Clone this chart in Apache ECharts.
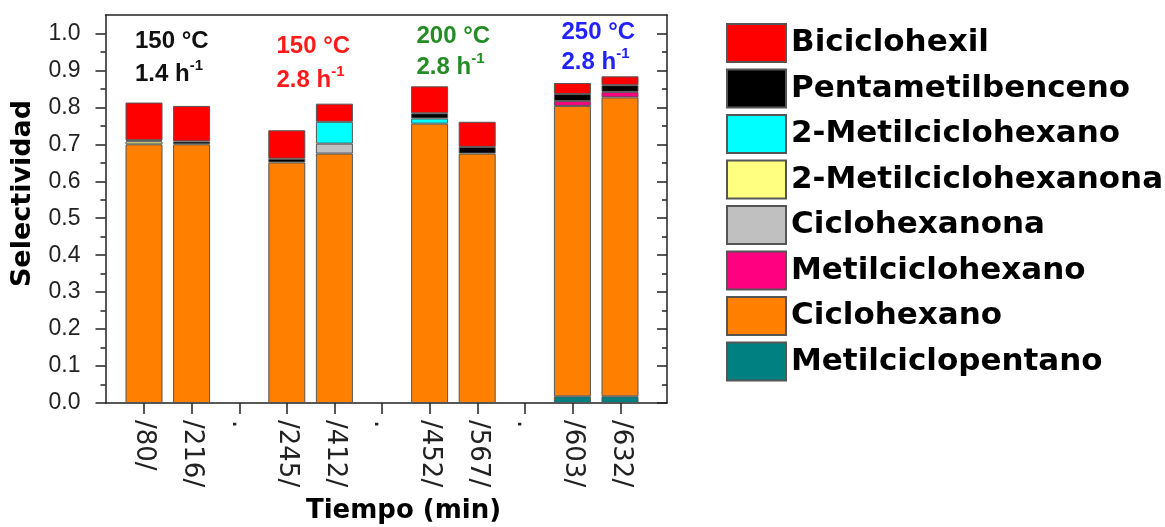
<!DOCTYPE html>
<html>
<head>
<meta charset="utf-8">
<script src="https://cdn.jsdelivr.net/npm/echarts@6/dist/echarts.min.js"></script>
<style>html,body{margin:0;padding:0;background:#fff;}#c{width:1165px;height:527px;}</style>
</head>
<body>
<div id="c"></div>
<script>
// ---- data ----
var categories = ['/80/', '/216/', '.', '/245/', '/412/', '.', '/452/', '/567/', '.', '/603/', '/632/'];
var yTicks = [0, 0.1, 0.2, 0.3, 0.4, 0.5, 0.6, 0.7, 0.8, 0.9, 1.0];
var yMinorTicks = [0.05, 0.15, 0.25, 0.35, 0.45, 0.55, 0.65, 0.75, 0.85, 0.95];
var metilciclopentano   = [null, null, null, null, null, null, null, null, null, 0.018, 0.018];
var ciclohexano         = [0.700, 0.700, null, 0.651, 0.675, null, 0.756, 0.675, null, 0.786, 0.809];
var metilciclohexano    = [null, null, null, null, null, null, null, null, null, 0.013, 0.015];
var ciclohexanona       = [null, null, null, null, 0.027, null, null, null, null, null, null];
var metilciclohexanona2 = [0.008, null, null, null, null, null, null, null, null, null, null];
var metilciclohexano2   = [null, null, null, null, 0.059, null, 0.014, null, null, null, null];
var pentametilbenceno   = [0.003, 0.008, null, 0.010, null, null, 0.014, 0.018, null, 0.019, 0.018];
var biciclohexil        = [0.102, 0.096, null, 0.077, 0.049, null, 0.073, 0.068, null, 0.030, 0.024];
var annotations = [
  {l1: '150 °C', l2: '1.4 h', color: '#111111'},
  {l1: '150 °C', l2: '2.8 h', color: '#ff1a1a'},
  {l1: '200 °C', l2: '2.8 h', color: '#238c23'},
  {l1: '250 °C', l2: '2.8 h', color: '#2222ff'}
];

var positions = categories.map(function (c, i) { return i + 1; });

var seriesDefs = [
  {name: 'Metilciclopentano', data: metilciclopentano, color: '#008080'},
  {name: 'Ciclohexano', data: ciclohexano, color: '#ff8000'},
  {name: 'Metilciclohexano', data: metilciclohexano, color: '#ff0080'},
  {name: 'Ciclohexanona', data: ciclohexanona, color: '#c0c0c0'},
  {name: '2-Metilciclohexanona', data: metilciclohexanona2, color: '#ffff80'},
  {name: '2-Metilciclohexano', data: metilciclohexano2, color: '#00ffff'},
  {name: 'Pentametilbenceno', data: pentametilbenceno, color: '#000000'},
  {name: 'Biciclohexil', data: biciclohexil, color: '#ff0000'}
];

var series = seriesDefs.map(function (s) {
  return {
    name: s.name, type: 'bar', stack: 'total', barWidth: 37,
    xAxisIndex: 2, yAxisIndex: 4,
    itemStyle: {color: s.color, borderColor: '#555', borderWidth: 1},
    data: s.data.map(function (v) { return v == null ? '-' : v; })
  };
});

var chart = echarts.init(document.getElementById('c'), null, {renderer: 'canvas'});
var axisLineStyle = {color: '#222', width: 1.5};
var xMin = 0.19, xMax = 11.98;

var option = {
  animation: false,
  backgroundColor: '#fff',
  grid: [
    {left: 105.5, right: 498, top: 15, bottom: 124, containLabel: false},
    {left: 120.2, right: 521.2, top: 15, bottom: 124, containLabel: false}
  ],
  legend: {
    orient: 'vertical', left: 721, top: 18,
    itemWidth: 59, itemHeight: 38, itemGap: 5.5,
    icon: 'rect',
    data: seriesDefs.map(function (s) { return s.name; }).reverse(),
    textStyle: {fontFamily: 'DejaVu Sans', fontWeight: 'bold', fontSize: 31, color: '#000'}
  },
  xAxis: [
    {
      type: 'value', gridIndex: 0, position: 'bottom', min: xMin, max: xMax,
      axisLine: {show: true, lineStyle: axisLineStyle},
      splitLine: {show: false},
      axisTick: {show: true, inside: false, length: 11, customValues: positions, lineStyle: {color: '#222', width: 1.5}},
      axisLabel: {
        customValues: positions, rotate: -90, margin: 17,
        fontFamily: 'DejaVu Sans', fontSize: 26, color: '#222',
        formatter: function (v) { return categories[Math.round(v) - 1] || ''; }
      }
    },
    {
      type: 'value', gridIndex: 0, position: 'top', min: xMin, max: xMax,
      axisLine: {show: true, onZero: false, lineStyle: axisLineStyle},
      splitLine: {show: false}, axisTick: {show: false}, axisLabel: {show: false}
    },
    {
      type: 'category', gridIndex: 1, data: categories, show: false, boundaryGap: true
    }
  ],
  yAxis: [
    {
      type: 'value', gridIndex: 0, position: 'left', min: 0, max: 1.05,
      axisLine: {show: true, lineStyle: axisLineStyle},
      splitLine: {show: false},
      axisTick: {show: true, inside: false, length: 10, customValues: yTicks, lineStyle: {color: '#222', width: 1.5}},
      axisLabel: {
        customValues: yTicks, margin: 25,
        fontFamily: 'Liberation Sans', fontSize: 23, color: '#222',
        formatter: function (v) { return v.toFixed(1); }
      }
    },
    {
      type: 'value', gridIndex: 0, position: 'left', min: 0, max: 1.05,
      axisLine: {show: false}, splitLine: {show: false},
      axisTick: {show: true, inside: false, length: 5, customValues: yMinorTicks, lineStyle: {color: '#222', width: 1.5}},
      axisLabel: {show: false}
    },
    {
      type: 'value', gridIndex: 0, position: 'right', min: 0, max: 1.05,
      axisLine: {show: true, lineStyle: axisLineStyle},
      splitLine: {show: false},
      axisTick: {show: true, inside: true, length: 10, customValues: yTicks, lineStyle: {color: '#222', width: 1.5}},
      axisLabel: {show: false}
    },
    {
      type: 'value', gridIndex: 0, position: 'right', min: 0, max: 1.05,
      axisLine: {show: false}, splitLine: {show: false},
      axisTick: {show: true, inside: true, length: 5, customValues: yMinorTicks, lineStyle: {color: '#222', width: 1.5}},
      axisLabel: {show: false}
    },
    {
      type: 'value', gridIndex: 1, min: 0, max: 1.05, show: false
    }
  ],
  series: series,
  graphic: []
};

// annotation placement (pixel layout)
var annoPos = [
  {x: 135, y1: 41, y2: 72},
  {x: 276.5, y1: 46, y2: 78},
  {x: 416.5, y1: 36, y2: 65},
  {x: 561.5, y1: 32, y2: 60}
];
var graphics = [];
annotations.forEach(function (a, i) {
  var p = annoPos[i];
  graphics.push({
    type: 'text', x: p.x, y: p.y1, silent: true,
    style: {text: a.l1, fill: a.color, font: 'bold 24px "Liberation Sans"', textAlign: 'left', textVerticalAlign: 'middle'}
  });
  graphics.push({
    type: 'text', x: p.x, y: p.y2, silent: true,
    style: {
      text: '{m|' + a.l2 + '}{s|-1}', fill: a.color, textAlign: 'left', textVerticalAlign: 'middle',
      rich: {
        m: {fontFamily: 'Liberation Sans', fontWeight: 'bold', fontSize: 24, lineHeight: 28, fill: a.color, verticalAlign: 'bottom'},
        s: {fontFamily: 'Liberation Sans', fontWeight: 'bold', fontSize: 15, lineHeight: 28, fill: a.color, verticalAlign: 'top', padding: [0, 0, 10, 0]}
      }
    }
  });
});
graphics.push({
  type: 'text', x: 23, y: 193.5, rotation: Math.PI / 2, silent: true,
  style: {text: 'Selectividad', fill: '#000', font: 'bold 27px "DejaVu Sans"', textAlign: 'center', textVerticalAlign: 'middle'}
});
graphics.push({
  type: 'text', x: 403.5, y: 511, silent: true,
  style: {text: 'Tiempo (min)', fill: '#000', font: 'bold 26px "DejaVu Sans"', textAlign: 'center', textVerticalAlign: 'middle'}
});
option.graphic = graphics;

chart.setOption(option);
</script>
</body>
</html>
